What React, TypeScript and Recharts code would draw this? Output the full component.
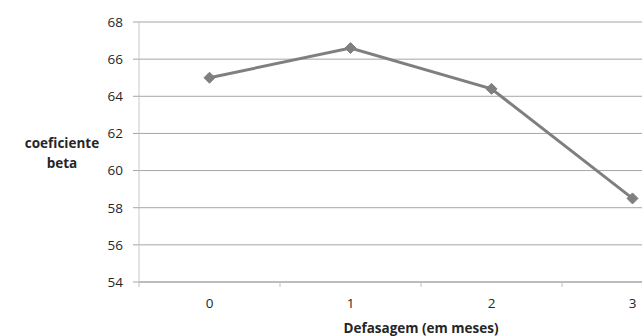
import React from 'react';
import { LineChart, Line, XAxis, YAxis, CartesianGrid, Label } from 'recharts';

// lags (months) and the beta coefficient
const lags = [0, 1, 2, 3];
const beta = [65.0, 66.6, 64.4, 58.5];
const yTicks = [54, 56, 58, 60, 62, 64, 66, 68];
// category boundaries (where Excel puts the x tick marks) plus the category centres
const xTicks = [-0.5, 0, 0.5, 1, 1.5, 2, 2.5, 3, 3.5];

const data = lags.map((lag, i) => ({ lag, beta: beta[i] }));

const FONT = '"Open Sans", sans-serif';
const TEXT = '#262626';
const LINE = '#7f7f7f';

const Diamond = (props: any) => {
  const { cx, cy } = props;
  if (cx == null || cy == null) return null;
  const r = 5.5;
  return (
    <polygon
      points={`${cx},${cy - r} ${cx + r},${cy} ${cx},${cy + r} ${cx - r},${cy}`}
      fill={LINE}
      stroke={LINE}
    />
  );
};

const XTick = (props: any) => {
  const { x, y, payload } = props;
  const v = payload.value;
  if (!Number.isInteger(v)) {
    return <line x1={x} x2={x} y1={y} y2={y + 5} stroke="#bfbfbf" />;
  }
  return (
    <text x={x} y={y + 26} textAnchor="middle" fontSize={13.5} fontFamily={FONT} fill={TEXT}>
      {v}
    </text>
  );
};

export default function App() {
  return (
    <div
      style={{
        position: 'fixed',
        left: 0,
        top: 0,
        width: 642,
        height: 336,
        overflow: 'hidden',
        background: '#fff',
      }}
    >
      <LineChart width={720} height={336} data={data} margin={{ top: 22, right: 17, bottom: 0, left: 0 }}>
        <CartesianGrid vertical={false} stroke="#a6a6a6" />
        <XAxis
          dataKey="lag"
          type="number"
          domain={[-0.5, 3.5]}
          ticks={xTicks}
          interval={0}
          height={54}
          tickSize={0}
          tickMargin={0}
          tickLine={false}
          axisLine={{ stroke: '#a6a6a6' }}
          tick={<XTick />}
        >
          <Label
            value="Defasagem (em meses)"
            position="insideBottom"
            offset={3}
            style={{ fontFamily: FONT, fontSize: 13.5, fontWeight: 700, fill: TEXT }}
          />
        </XAxis>
        <YAxis
          domain={[54, 68]}
          ticks={yTicks}
          interval={0}
          width={139}
          tickSize={6}
          tickMargin={10}
          tickLine={{ stroke: '#a6a6a6' }}
          axisLine={{ stroke: '#c8c8c8' }}
          tick={{ fontSize: 13.5, fontFamily: FONT, fill: TEXT }}
        >
          <Label
            content={(p: any) => {
              const vb = p.viewBox || { x: 0, y: 22, width: 139, height: 260 };
              const cx = vb.x + 62;
              const cy = vb.y + 126;
              return (
                <text
                  x={cx}
                  y={cy}
                  textAnchor="middle"
                  fontSize={13.5}
                  fontWeight={700}
                  fontFamily={FONT}
                  fill={TEXT}
                >
                  <tspan x={cx} dy={0}>coeficiente</tspan>
                  <tspan x={cx} dy={20}>beta</tspan>
                </text>
              );
            }}
          />
        </YAxis>
        <Line
          dataKey="beta"
          stroke={LINE}
          strokeWidth={3}
          dot={<Diamond />}
          activeDot={false}
          isAnimationActive={false}
        />
      </LineChart>
    </div>
  );
}
